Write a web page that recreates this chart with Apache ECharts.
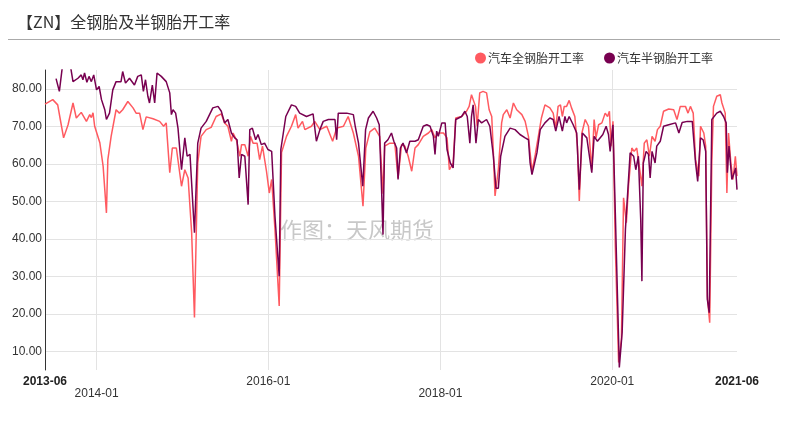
<!DOCTYPE html>
<html>
<head>
<meta charset="utf-8">
<script src="https://cdn.jsdelivr.net/npm/echarts@6/dist/echarts.min.js"></script>
<style>html,body{margin:0;padding:0;background:#fff;}#c{width:788px;height:424px;}</style>
</head>
<body>
<div id="c"></div>
<script>
const titleText = '【ZN】全钢胎及半钢胎开工率';
const seriesNames = ['汽车全钢胎开工率', '汽车半钢胎开工率'];
const watermark = '作图：天风期货';

const xTickDates = ['2013-05-27', '2014-01-01', '2016-01-01', '2018-01-01', '2020-01-01', '2021-06-14'];
const xTickLabels = ['2013-06', '2014-01', '2016-01', '2018-01', '2020-01', '2021-06'];
const yTickValues = [10, 20, 30, 40, 50, 60, 70, 80];

const allSteelDates = ['2013-05-27','2013-06-29','2013-07-20','2013-07-31','2013-08-14','2013-09-02','2013-09-23','2013-10-07','2013-10-28','2013-11-19','2013-12-03','2013-12-10','2013-12-17','2013-12-24','2014-01-15','2014-01-29','2014-02-12','2014-02-18','2014-03-04','2014-03-25','2014-04-08','2014-04-22','2014-05-14','2014-06-05','2014-06-18','2014-07-03','2014-07-17','2014-07-31','2014-08-29','2014-09-26','2014-10-13','2014-10-24','2014-11-08','2014-11-19','2014-12-06','2014-12-28','2015-01-11','2015-01-25','2015-02-09','2015-02-21','2015-03-07','2015-03-21','2015-04-12','2015-05-03','2015-05-24','2015-06-15','2015-06-29','2015-07-13','2015-07-28','2015-08-04','2015-08-18','2015-09-02','2015-09-09','2015-09-23','2015-10-07','2015-10-17','2015-10-28','2015-11-14','2015-11-25','2015-12-07','2015-12-24','2016-01-05','2016-01-15','2016-01-29','2016-02-16','2016-02-26','2016-03-18','2016-04-08','2016-04-26','2016-05-06','2016-05-25','2016-06-04','2016-07-02','2016-07-16','2016-08-07','2016-09-05','2016-09-30','2016-10-17','2016-11-15','2016-12-05','2016-12-27','2017-01-18','2017-02-06','2017-02-18','2017-03-07','2017-03-28','2017-04-18','2017-05-02','2017-05-09','2017-05-31','2017-06-21','2017-07-05','2017-07-20','2017-08-03','2017-08-17','2017-09-01','2017-09-15','2017-09-29','2017-10-20','2017-11-11','2017-11-25','2017-12-09','2017-12-23','2018-01-14','2018-01-29','2018-02-08','2018-02-24','2018-03-07','2018-04-01','2018-04-22','2018-05-03','2018-05-13','2018-05-20','2018-05-30','2018-06-06','2018-06-17','2018-07-01','2018-07-16','2018-07-27','2018-08-07','2018-08-14','2018-08-21','2018-09-04','2018-09-18','2018-09-25','2018-10-10','2018-10-24','2018-11-07','2018-11-21','2018-12-13','2018-12-27','2019-01-10','2019-01-25','2019-02-08','2019-02-21','2019-03-06','2019-03-21','2019-04-11','2019-04-25','2019-05-06','2019-05-16','2019-05-26','2019-06-03','2019-06-11','2019-06-21','2019-07-02','2019-07-12','2019-07-26','2019-08-06','2019-08-14','2019-08-25','2019-09-08','2019-09-22','2019-10-06','2019-10-16','2019-10-24','2019-11-04','2019-11-18','2019-12-02','2019-12-12','2019-12-20','2019-12-27','2020-01-04','2020-01-14','2020-01-28','2020-02-09','2020-02-18','2020-03-01','2020-03-10','2020-03-24','2020-04-03','2020-04-14','2020-04-25','2020-05-06','2020-05-16','2020-05-27','2020-06-07','2020-06-18','2020-07-01','2020-07-11','2020-07-23','2020-08-06','2020-08-28','2020-09-18','2020-10-02','2020-10-16','2020-11-07','2020-11-18','2020-11-28','2020-12-10','2020-12-20','2021-01-03','2021-01-10','2021-01-24','2021-02-01','2021-02-08','2021-02-18','2021-02-27','2021-03-06','2021-03-20','2021-04-04','2021-04-11','2021-04-25','2021-05-02','2021-05-09','2021-05-19','2021-05-28','2021-06-07','2021-06-14'];
const allSteelRates = [75.9,77.1,75.7,71.8,66.9,70.4,76.2,72.2,73.7,71.3,73.1,72.3,73.6,70.0,65.6,59.3,46.9,61.1,67.3,74.4,73.5,74.4,76.6,74.9,73.5,73.5,69.1,72.5,72.0,71.3,70.0,70.9,57.6,64.2,64.2,54.0,58.4,56.2,41.7,19.0,60.2,67.3,69.1,69.7,72.6,73.3,70.9,70.0,66.0,68.2,66.4,62.0,65.1,65.1,62.0,67.3,65.5,65.5,61.1,64.7,58.0,52.2,55.8,42.5,22.1,63.0,67.3,70.0,73.1,69.5,71.3,69.1,70.0,71.3,69.1,70.0,66.0,69.5,70.0,72.6,68.2,62.0,48.7,64.2,68.5,69.5,67.3,52.0,64.7,65.5,65.5,56.2,65.1,64.7,62.0,58.0,64.2,65.1,67.3,68.2,69.1,66.9,68.2,68.2,66.9,58.4,60.2,72.2,72.6,74.0,75.3,78.4,78.9,75.3,70.0,78.9,79.3,78.9,74.4,72.6,62.9,51.4,58.4,70.9,73.1,74.4,72.2,76.2,74.4,73.1,71.3,67.3,58.0,62.5,67.3,72.2,75.7,74.9,73.5,69.5,75.3,75.7,72.6,75.3,75.3,76.9,74.9,72.6,64.7,50.1,68.2,71.8,70.0,58.4,71.8,66.9,70.4,70.9,73.5,72.6,74.0,64.7,71.3,38.0,7.0,13.2,50.9,44.3,54.0,64.2,63.3,64.2,59.3,54.0,65.5,66.4,62.0,67.3,66.0,69.1,70.0,74.0,74.6,74.4,71.8,75.3,75.3,73.5,75.3,73.5,61.1,56.7,70.0,68.2,64.7,24.7,17.6,60.2,75.3,78.0,78.4,76.2,73.5,52.2,68.2,60.2,55.8,62.0,56.7];

const semiSteelDates = ['2013-07-13','2013-07-27','2013-08-10','2013-08-22','2013-09-07','2013-09-23','2013-10-14','2013-10-28','2013-11-04','2013-11-11','2013-11-21','2013-11-30','2013-12-10','2013-12-20','2014-01-01','2014-01-12','2014-01-22','2014-02-05','2014-02-12','2014-02-25','2014-03-11','2014-03-25','2014-04-15','2014-04-22','2014-05-04','2014-05-21','2014-06-11','2014-06-25','2014-07-10','2014-07-19','2014-07-28','2014-08-07','2014-08-14','2014-08-26','2014-09-05','2014-09-15','2014-10-03','2014-10-24','2014-11-08','2014-11-15','2014-11-22','2014-12-03','2014-12-13','2014-12-28','2015-01-11','2015-01-21','2015-02-02','2015-02-21','2015-03-07','2015-03-21','2015-04-12','2015-04-26','2015-05-10','2015-06-01','2015-06-15','2015-06-29','2015-07-13','2015-07-28','2015-08-11','2015-08-21','2015-08-30','2015-09-09','2015-09-23','2015-10-07','2015-10-14','2015-10-25','2015-11-08','2015-11-18','2015-12-02','2015-12-16','2015-12-30','2016-01-15','2016-01-29','2016-02-16','2016-02-23','2016-03-15','2016-04-08','2016-04-26','2016-05-13','2016-06-11','2016-07-09','2016-07-23','2016-08-07','2016-08-21','2016-09-12','2016-10-10','2016-10-17','2016-10-24','2016-11-29','2016-12-27','2017-01-04','2017-01-18','2017-02-05','2017-02-17','2017-03-01','2017-03-21','2017-04-05','2017-04-16','2017-04-26','2017-05-02','2017-05-09','2017-05-23','2017-06-07','2017-06-17','2017-06-29','2017-07-05','2017-07-15','2017-07-26','2017-08-10','2017-08-24','2017-09-15','2017-09-29','2017-10-20','2017-11-04','2017-11-18','2017-12-02','2017-12-09','2017-12-16','2017-12-23','2018-01-07','2018-01-21','2018-01-29','2018-02-12','2018-02-24','2018-03-07','2018-04-01','2018-04-15','2018-04-25','2018-05-06','2018-05-13','2018-05-20','2018-06-01','2018-06-11','2018-06-25','2018-07-16','2018-07-30','2018-08-14','2018-08-25','2018-09-04','2018-09-14','2018-10-02','2018-10-24','2018-11-14','2018-12-05','2018-12-27','2019-01-10','2019-01-17','2019-01-25','2019-02-15','2019-03-01','2019-03-21','2019-04-11','2019-04-25','2019-05-06','2019-05-20','2019-06-03','2019-06-14','2019-06-21','2019-07-02','2019-07-19','2019-08-03','2019-08-14','2019-08-27','2019-09-15','2019-10-06','2019-10-16','2019-10-30','2019-11-22','2019-12-06','2019-12-16','2019-12-23','2020-01-04','2020-01-14','2020-01-31','2020-02-12','2020-02-26','2020-03-17','2020-04-01','2020-04-10','2020-04-21','2020-05-01','2020-05-06','2020-05-12','2020-05-24','2020-06-03','2020-06-10','2020-06-18','2020-07-01','2020-07-08','2020-07-23','2020-08-06','2020-08-28','2020-09-26','2020-10-10','2020-10-24','2020-11-15','2020-12-06','2020-12-20','2020-12-29','2021-01-10','2021-01-21','2021-02-01','2021-02-08','2021-02-16','2021-02-27','2021-03-20','2021-04-04','2021-04-18','2021-04-29','2021-05-04','2021-05-11','2021-05-23','2021-06-02','2021-06-08','2021-06-14'];
const semiSteelRates = [82.7,79.3,86.5,88.0,88.0,81.9,82.8,83.7,82.4,84.2,81.7,83.3,81.9,83.7,79.7,80.6,77.1,74.4,71.8,73.5,79.7,81.9,81.9,84.6,81.5,82.8,81.0,83.3,83.7,79.3,82.4,78.0,76.2,81.0,76.2,84.2,83.3,81.9,78.9,73.1,74.4,73.5,69.5,58.4,66.9,62.0,62.5,41.6,65.5,69.5,71.3,73.1,74.9,75.3,74.0,70.9,71.8,68.2,66.9,66.4,56.2,62.5,62.0,49.1,69.1,69.5,66.4,67.8,65.1,65.5,63.8,63.3,46.0,30.0,63.8,72.6,75.7,75.3,73.5,72.6,73.3,66.0,69.1,71.3,71.8,71.8,66.4,73.5,73.5,73.1,70.0,65.5,54.0,69.1,72.2,74.0,72.2,70.4,53.1,41.1,65.5,66.4,68.2,66.0,64.2,55.8,64.2,65.5,62.9,66.0,66.0,66.4,70.0,70.4,70.0,67.3,62.5,68.7,67.3,70.9,70.9,63.8,60.2,58.9,71.8,72.6,74.0,72.6,65.5,72.6,75.7,65.5,71.8,70.9,71.8,70.0,62.0,53.5,53.5,62.0,67.3,69.5,69.1,67.8,66.9,66.4,60.2,57.1,62.9,69.1,70.9,72.2,71.8,68.7,72.6,68.7,72.6,70.9,72.6,70.4,68.2,53.1,68.2,66.9,57.6,67.3,66.0,67.8,70.0,67.8,63.3,70.4,46.9,5.7,15.0,42.5,62.9,62.0,58.4,62.0,45.1,28.7,60.2,63.3,62.5,56.2,63.3,60.2,64.7,66.0,70.0,70.4,70.9,68.2,71.0,71.3,71.3,60.2,55.3,66.9,66.4,63.3,23.8,20.3,71.8,73.5,74.0,72.6,70.9,57.6,64.7,55.8,57.6,58.9,53.1];

const colors = ['#FF5A60', '#780050'];

const ts = d => echarts.number.parseDate(d).getTime();
function pairs(d, v) { return d.map((x, i) => [ts(x), v[i]]); }
const tickTs = xTickDates.map(ts);

const chart = echarts.init(document.getElementById('c'), null, { renderer: 'canvas' });
chart.setOption({
  animation: false,
  backgroundColor: '#fff',
  color: colors,
  title: {
    text: titleText, left: 12, top: 9,
    textStyle: { fontSize: 16, fontWeight: 'normal', color: '#333', fontFamily: 'Noto Sans CJK SC' }
  },
  graphic: [
    { type: 'line', shape: { x1: 8, y1: 39.5, x2: 780, y2: 39.5 }, style: { stroke: '#aaa', lineWidth: 1 } },
    { type: 'text', left: 280, top: 219, z: -1,
      style: { text: watermark, fontSize: 22, fill: '#c8c8c8', fontFamily: 'Noto Sans CJK SC' } }
  ],
  legend: {
    data: seriesNames, right: 70, top: 47, icon: 'circle', itemWidth: 11, itemHeight: 11, itemGap: 20,
    textStyle: { fontSize: 12, color: '#333', fontFamily: 'Noto Sans CJK SC', padding: [0, 0, 0, -3] }
  },
  grid: { left: 45, right: 51, top: 70, bottom: 54, containLabel: false },
  xAxis: {
    type: 'value',
    min: tickTs[0], max: tickTs[tickTs.length - 1],
    axisLine: { show: false },
    axisTick: { show: false, customValues: tickTs.slice(1, -1) },
    splitLine: { show: true, lineStyle: { color: '#e3e3e3' } },
    axisLabel: {
      customValues: tickTs,
      showMinLabel: true, showMaxLabel: true,
      margin: 6, lineHeight: 12,
      formatter: function (v) {
        let idx = 0, best = Infinity;
        tickTs.forEach((t, i) => { const d = Math.abs(t - v); if (d < best) { best = d; idx = i; } });
        const lab = xTickLabels[idx];
        if (idx === 0 || idx === xTickLabels.length - 1) return '{b|' + lab + '}';
        if (idx % 2 === 1) return '{n|}\n{n|' + lab + '}';
        return '{n|' + lab + '}';
      },
      rich: {
        b: { fontSize: 12, fontWeight: 'bold', color: '#222', lineHeight: 12, fontFamily: 'Liberation Sans' },
        n: { fontSize: 12, color: '#333', lineHeight: 12, fontFamily: 'Liberation Sans' }
      }
    }
  },
  yAxis: {
    type: 'value', min: 5, max: 85,
    axisLine: { show: true, lineStyle: { color: '#333' } },
    axisTick: { show: false, customValues: yTickValues },
    splitLine: { show: true, lineStyle: { color: '#e3e3e3' } },
    axisLabel: {
      customValues: yTickValues, margin: 3,
      fontSize: 12, color: '#333', fontFamily: 'Liberation Sans',
      formatter: v => Number(v).toFixed(2)
    }
  },
  series: [
    { name: seriesNames[0], type: 'line', showSymbol: false, data: pairs(allSteelDates, allSteelRates),
      lineStyle: { width: 1.5, color: colors[0] }, itemStyle: { color: colors[0] }, clip: true },
    { name: seriesNames[1], type: 'line', showSymbol: false, data: pairs(semiSteelDates, semiSteelRates),
      lineStyle: { width: 1.5, color: colors[1] }, itemStyle: { color: colors[1] }, clip: true }
  ]
});
</script>
</body>
</html>
